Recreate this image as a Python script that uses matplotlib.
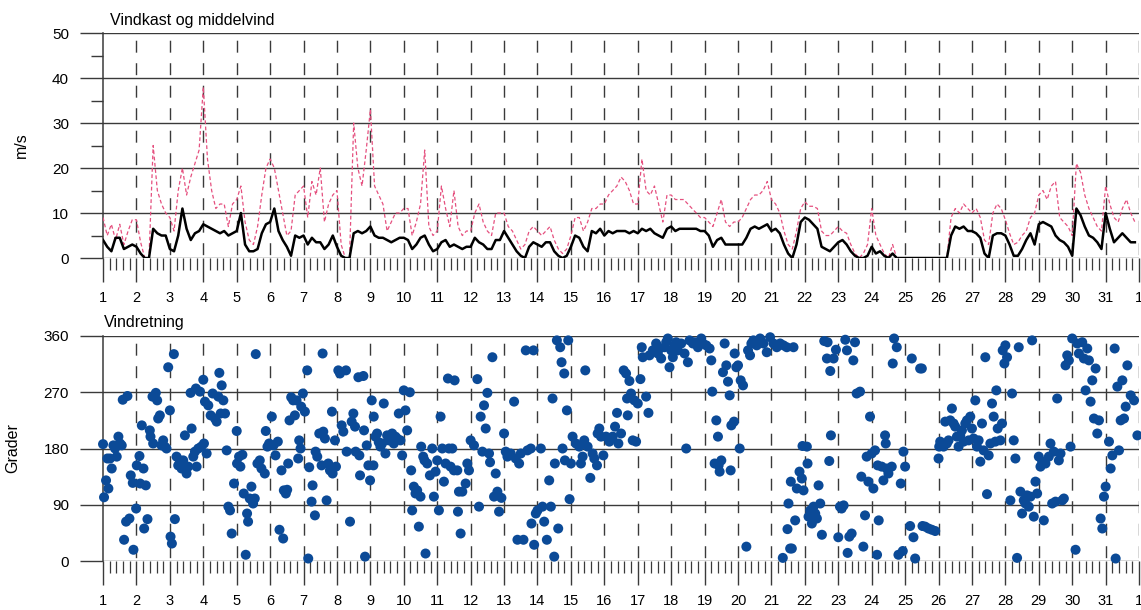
import numpy as np
import matplotlib
matplotlib.use("Agg")
import matplotlib.pyplot as plt
from matplotlib.ticker import MultipleLocator, FixedLocator

plt.rcParams['font.family'] = ['Liberation Sans', 'DejaVu Sans']

# Middelvind (m/s), 3-timers verdier, 8 per dag
mean_wind = [
    4, 2.5, 1.5, 4.5, 4.5, 2, 2.5, 3,          # 1
    2.5, 1, 0, 0, 6.5, 5.5, 5, 5,              # 2
    2, 1.5, 5, 11, 6.5, 4, 5.5, 6,             # 3
    7.5, 7, 6.5, 6, 5.5, 6, 5, 5.5,            # 4
    6, 10, 3, 1.5, 1.5, 2, 5.5, 7.5,           # 5
    8, 11, 6, 4, 2.5, 0.5, 5, 4.5,             # 6
    5, 3, 4.5, 3.5, 3.5, 2, 3, 5,              # 7
    2.5, 0.5, 0, 0, 5.5, 6, 5.5, 6,            # 8
    7, 5, 4.5, 4.5, 4, 3.5, 4, 4.5,            # 9
    4.5, 4, 2, 3, 4.5, 5, 3, 1.5,              # 10
    2, 3.5, 4, 2.5, 3, 2.5, 2, 2.5,            # 11
    2.5, 4.5, 3.5, 3, 2, 2, 4, 4,              # 12
    6, 4.5, 3, 1.5, 0.5, 0, 2.5, 3.5,          # 13
    3, 2.5, 3.5, 3.5, 1.5, 0.5, 0, 0.5,        # 14
    2.5, 5, 4.5, 2.5, 1.5, 6, 5.5, 6.5,        # 15
    5, 6, 5.5, 6, 6, 6, 5.5, 6,                # 16
    5.5, 6.5, 6, 6.5, 5.5, 5, 4.5, 6.5,        # 17
    7, 6, 6.5, 6.5, 6.5, 6.5, 6.5, 6,          # 18
    6, 5, 2.5, 4, 4.5, 3, 3, 3,                # 19
    3, 3, 4.5, 6.5, 7, 6.5, 7, 7.5,            # 20
    6, 6.5, 5.5, 3, 1, 0, 3, 8,                # 21
    9, 8.5, 7.5, 6.5, 2.5, 2, 1.5, 2.5,        # 22
    3.5, 4, 3, 1.5, 0.5, 0, 0, 0.5,            # 23
    2.5, 1, 1.5, 0.5, 0, 1, 0, 0,              # 24
    0, 0, 0, 0, 0, 0, 0, 0,                    # 25
    0, 0, 0, 5, 7, 6.5, 7, 6,                  # 26
    6, 5.5, 4.5, 1, 0, 5, 5.5, 5.5,            # 27
    5, 3, 0.5, 0.5, 2, 4, 5.5, 3,              # 28
    7.5, 8, 7.5, 7, 5, 4, 3.5, 2.5,            # 29
    0.5, 11, 9.5, 7, 5, 4.5, 3.5, 2,           # 30
    10, 6.5, 3.5, 4.5, 5.5, 4.5, 3.5, 3.5,     # 31
]

# Vindkast (m/s)
gust = [
    9, 5, 7.5, 4, 7.5, 3, 6, 8.5,
    8.5, 3.5, 0, 0, 25, 15, 12, 10,
    9, 6, 15, 20, 14, 18, 21, 24,
    38, 22, 15, 11, 12, 12, 7, 12,
    13, 16, 8, 4, 3, 7, 14, 20,
    22, 20, 15, 10, 5, 6, 14, 15,
    16, 9, 17, 14, 20, 8, 12, 14,
    15, 3, 0, 0, 30, 20, 16, 24,
    33, 16, 14, 12, 6, 8, 10, 10,
    11, 11, 5, 8, 12, 24, 7, 5,
    6, 16, 11, 7, 15, 7, 5, 6,
    6, 10, 12, 8, 6, 5, 10, 10,
    10, 7, 6, 4, 2, 3, 6, 7,
    6, 5, 6, 7, 4, 2, 1, 2,
    5, 9, 9, 6, 8, 11, 11, 12,
    12, 14, 15, 16, 18, 17, 15, 12,
    12, 22, 15, 14, 16, 12, 8, 14,
    14, 13, 13, 13, 12, 11, 10, 9,
    9, 8, 7, 10, 13, 8, 7, 8,
    8, 9, 11, 13, 14, 14, 15, 17,
    13, 12, 10, 6, 3, 2, 6, 11,
    12.5, 11.5, 11.5, 11, 6, 5, 5, 6,
    7, 6, 5.5, 3, 1, 0, 1, 3,
    11, 5, 3, 1, 0, 3, 0, 0,
    0, 0, 0, 0, 0, 0, 0, 0,
    0, 0, 0, 9, 11, 10, 12, 11,
    10, 11, 9, 4, 3, 10, 12, 11,
    8.5, 5.5, 3, 3.5, 5, 6, 9, 10,
    14, 15, 13, 16, 17, 9, 8, 7,
    5, 21, 19, 14, 11, 9, 7, 6,
    16, 12, 9, 8, 11, 13, 10, 8,
]

# Vindretning: tidspunkt (dag) og retning (grader)
dir_day = [
    1.00, 1.03, 1.09, 1.13, 1.16, 1.21, 1.26, 1.31, 1.36, 1.41, 1.46, 1.51, 1.56, 1.59, 1.63, 1.69, 1.73, 1.79, 1.83, 1.89, 1.91, 1.99,
    2.01, 2.09, 2.11, 2.16, 2.21, 2.23, 2.28, 2.33, 2.40, 2.42, 2.48, 2.50, 2.58, 2.62, 2.65, 2.70, 2.75, 2.80, 2.85, 2.90, 2.95,
    3.00, 3.02, 3.06, 3.12, 3.15, 3.20, 3.25, 3.30, 3.35, 3.40, 3.45, 3.50, 3.55, 3.62, 3.65, 3.70, 3.75, 3.78, 3.80, 3.85, 3.90, 3.94,
    4.00, 4.02, 4.05, 4.10, 4.15, 4.22, 4.28, 4.35, 4.40, 4.45, 4.48, 4.52, 4.55, 4.60, 4.65, 4.70, 4.75, 4.80, 4.85, 4.92,
    5.00, 5.01, 5.07, 5.11, 5.17, 5.21, 5.27, 5.31, 5.34, 5.39, 5.44, 5.49, 5.54, 5.57, 5.62, 5.69, 5.74, 5.84, 5.87, 5.92, 5.97,
    6.05, 6.10, 6.16, 6.23, 6.28, 6.34, 6.39, 6.41, 6.47, 6.51, 6.54, 6.58, 6.63, 6.69, 6.74, 6.79, 6.84, 6.87, 6.91, 6.93, 6.98,
    7.04, 7.11, 7.14, 7.17, 7.24, 7.27, 7.34, 7.36, 7.41, 7.47, 7.54, 7.57, 7.59, 7.64, 7.69, 7.74, 7.79, 7.85, 7.87, 7.94, 7.97,
    8.04, 8.09, 8.14, 8.19, 8.27, 8.29, 8.39, 8.44, 8.49, 8.54, 8.56, 8.64, 8.67, 8.69, 8.79, 8.81, 8.84, 8.89, 8.94, 8.99,
    9.04, 9.09, 9.10, 9.15, 9.20, 9.25, 9.30, 9.35, 9.40, 9.45, 9.50, 9.55, 9.60, 9.65, 9.70, 9.75, 9.80, 9.85, 9.90, 9.95,
    10.00, 10.05, 10.10, 10.18, 10.22, 10.25, 10.30, 10.35, 10.40, 10.45, 10.50, 10.52, 10.58, 10.62, 10.65, 10.70, 10.78, 10.85, 10.90, 10.95,
    11.00, 11.05, 11.10, 11.15, 11.20, 11.25, 11.32, 11.35, 11.40, 11.45, 11.50, 11.52, 11.60, 11.62, 11.65, 11.70, 11.75, 11.85, 11.90, 11.95,
    12.00, 12.10, 12.20, 12.25, 12.30, 12.35, 12.40, 12.45, 12.50, 12.55, 12.58, 12.65, 12.70, 12.75, 12.80, 12.85, 12.92,
    13.00, 13.05, 13.10, 13.20, 13.30, 13.35, 13.40, 13.45, 13.50, 13.58, 13.65, 13.70, 13.80, 13.82, 13.88, 13.90, 13.95,
    14.00, 14.10, 14.15, 14.20, 14.28, 14.35, 14.40, 14.45, 14.50, 14.52, 14.58, 14.62, 14.68, 14.72, 14.75, 14.80, 14.82, 14.88, 14.92, 14.96,
    15.00, 15.05, 15.15, 15.25, 15.30, 15.35, 15.40, 15.43, 15.50, 15.58, 15.65, 15.70, 15.78, 15.80, 15.85, 15.90, 15.97,
    16.05, 16.15, 16.25, 16.32, 16.38, 16.42, 16.50, 16.58, 16.65, 16.68, 16.70, 16.75, 16.80, 16.85, 16.90, 16.95,
    17.00, 17.08, 17.12, 17.15, 17.25, 17.32, 17.35, 17.45, 17.55, 17.60, 17.65, 17.70, 17.80, 17.85, 17.90, 17.95,
    18.00, 18.05, 18.10, 18.15, 18.20, 18.30, 18.40, 18.45, 18.50, 18.55, 18.65, 18.70, 18.80, 18.90, 18.95,
    19.05, 19.15, 19.20, 19.23, 19.30, 19.35, 19.40, 19.42, 19.45, 19.50, 19.55, 19.60, 19.65, 19.70, 19.75, 19.78, 19.80, 19.88, 19.90, 19.95,
    20.00, 20.05, 20.08, 20.15, 20.25, 20.30, 20.36, 20.40, 20.46, 20.56, 20.66, 20.76, 20.86, 20.96,
    21.06, 21.16, 21.26, 21.34, 21.36, 21.46, 21.48, 21.51, 21.56, 21.58, 21.61, 21.66, 21.71, 21.76, 21.84, 21.91, 21.93, 21.96,
    22.06, 22.08, 22.11, 22.16, 22.21, 22.26, 22.31, 22.36, 22.41, 22.46, 22.51, 22.58, 22.66, 22.68, 22.73, 22.76, 22.78, 22.86, 22.93,
    23.00, 23.05, 23.10, 23.16, 23.21, 23.26, 23.28, 23.33, 23.40, 23.45, 23.50, 23.55, 23.65, 23.69, 23.75, 23.80, 23.85, 23.90, 23.95,
    24.00, 24.05, 24.10, 24.16, 24.18, 24.21, 24.30, 24.35, 24.40, 24.42, 24.45, 24.50, 24.60, 24.63, 24.67, 24.75, 24.80, 24.87, 24.93, 24.95,
    25.00, 25.15, 25.20, 25.25, 25.30, 25.45, 25.50, 25.52, 25.60, 25.70, 25.80, 25.90,
    26.00, 26.02, 26.05, 26.15, 26.20, 26.25, 26.30, 26.35, 26.40, 26.45, 26.50, 26.55, 26.60, 26.65, 26.70, 26.75, 26.80, 26.85, 26.90, 26.95,
    27.00, 27.05, 27.10, 27.15, 27.20, 27.25, 27.30, 27.35, 27.40, 27.45, 27.50, 27.55, 27.60, 27.65, 27.70, 27.73, 27.77, 27.85, 27.90, 27.92, 27.97,
    28.00, 28.05, 28.15, 28.20, 28.25, 28.30, 28.35, 28.40, 28.45, 28.50, 28.55, 28.60, 28.65, 28.70, 28.75, 28.80, 28.85, 28.90, 28.95,
    29.00, 29.05, 29.10, 29.15, 29.20, 29.30, 29.35, 29.40, 29.45, 29.50, 29.55, 29.60, 29.65, 29.70, 29.75, 29.80, 29.85, 29.90, 29.95,
    30.00, 30.10, 30.15, 30.20, 30.30, 30.35, 30.40, 30.45, 30.50, 30.55, 30.60, 30.65, 30.70, 30.75, 30.80, 30.85, 30.90, 30.95,
    31.00, 31.10, 31.15, 31.20, 31.27, 31.30, 31.35, 31.40, 31.45, 31.50, 31.55, 31.60, 31.65, 31.75, 31.85, 31.95,
]
dir_deg = [
    187, 102, 129, 164, 116, 164, 148, 185, 180, 167, 199, 188, 185, 258, 34, 63, 264, 68, 137, 125, 18, 84,
    153, 168, 124, 217, 148, 52, 121, 67, 209, 199, 263, 188, 269, 257, 228, 233, 185, 193, 183, 180, 310,
    241, 39, 28, 331, 67, 167, 153, 161, 148, 161, 201, 140, 151, 269, 212, 167, 175, 276, 151, 180, 271, 183,
    290, 188, 255, 172, 249, 233, 268, 228, 223, 263, 301, 236, 281, 257, 236, 177, 87, 81, 44, 124,
    208, 156, 167, 151, 170, 108, 10, 76, 63, 100, 119, 92, 100, 331, 156, 161, 148, 140, 208, 183, 188,
    231, 185, 169, 191, 50, 145, 36, 113, 108, 114, 156, 225, 262, 257, 233, 257, 164, 193, 180, 247, 268,
    239, 305, 4, 150, 95, 121, 73, 175, 167, 204, 153, 332, 207, 196, 97, 156, 145, 239, 140, 193, 151,
    305, 300, 217, 207, 305, 175, 63, 223, 236, 215, 175, 294, 169, 137, 296, 209, 7, 185, 153, 129,
    257, 153, 231, 199, 204, 190, 183, 188, 252, 172, 201, 193, 199, 204, 188, 199, 196, 236, 193, 169,
    273, 241, 209, 270, 145, 81, 119, 108, 113, 55, 103, 183, 167, 161, 12, 156, 137, 180, 103, 143,
    161, 81, 231, 180, 127, 156, 292, 180, 151, 180, 145, 289, 145, 79, 111, 44, 111, 124, 156, 145,
    193, 185, 291, 87, 231, 175, 249, 212, 269, 172, 158, 326, 103, 140, 111, 79, 101,
    204, 175, 167, 172, 255, 164, 34, 156, 172, 34, 337, 177, 180, 60, 337, 26, 76,
    81, 180, 87, 63, 34, 129, 87, 260, 7, 156, 353, 52, 342, 318, 180, 300, 161, 241, 353, 99,
    156, 199, 188, 183, 156, 167, 193, 305, 183, 133, 172, 164, 153, 204, 212, 199, 169,
    199, 191, 199, 215, 237, 188, 204, 305, 300, 260, 233, 288, 268, 193, 257, 191,
    252, 291, 342, 326, 263, 237, 329, 337, 348, 332, 340, 324, 342, 350, 356, 310,
    337, 326, 345, 350, 337, 348, 332, 180, 318, 353, 348, 350, 342, 356, 348,
    345, 340, 321, 271, 156, 225, 199, 153, 143, 161, 302, 348, 313, 287, 265, 145, 217, 223, 332, 310,
    313, 180, 289, 281, 23, 337, 329, 348, 353, 345, 356, 348, 334, 358,
    348, 342, 348, 5, 345, 342, 51, 92, 20, 127, 20, 342, 65, 116, 143, 132, 184, 113,
    183, 156, 71, 81, 60, 87, 76, 68, 121, 92, 42, 352, 324, 350, 160, 304, 201, 324, 338,
    38, 87, 84, 89, 354, 337, 13, 39, 44, 321, 350, 268, 271, 135, 23, 73, 167, 127, 231,
    172, 116, 177, 10, 153, 65, 151, 129, 201, 188, 148, 140, 151, 316, 356, 342, 10, 124, 16, 175,
    151, 56, 324, 38, 4, 308, 308, 56, 55, 52, 50, 48,
    164, 183, 191, 183, 223, 188, 193, 225, 244, 220, 215, 199, 183, 201, 209, 191, 220, 225, 193, 231,
    212, 196, 257, 183, 193, 159, 220, 177, 326, 107, 169, 188, 252, 231, 191, 273, 212, 193, 220, 337, 316,
    345, 326, 97, 268, 193, 164, 5, 342, 111, 76, 97, 92, 105, 87, 103, 353, 71, 127, 108,
    167, 151, 159, 65, 156, 167, 188, 92, 175, 95, 260, 161, 172, 97, 100, 313, 329, 321, 183,
    356, 18, 348, 332, 350, 324, 273, 340, 321, 255, 289, 228, 308, 204, 225, 68, 52, 103,
    119, 191, 148, 169, 340, 4, 279, 177, 225, 289, 228, 247, 313, 265, 257, 201,
]

day_labels = [str(d) for d in range(1, 32)] + ["1"]

obs_hour = np.arange(0, 3 * len(mean_wind), 3)
wind_day = 1 + obs_hour / 24.0

grid_col = "#3a3a3a"

fig = plt.figure(figsize=(11.41, 6.10), dpi=100)
ax1 = fig.add_axes([0.0903, 0.5770, 0.9080, 0.3689])
ax2 = fig.add_axes([0.0903, 0.0803, 0.9080, 0.3689])


def style_axis(ax, ymax, ystep, yminor=None):
    ax.set_xlim(1, 32)
    ax.set_ylim(0, ymax)
    for s in ["top", "right", "bottom"]:
        ax.spines[s].set_visible(False)
    ax.spines["left"].set_color(grid_col)
    ax.spines["left"].set_linewidth(1.1)
    ax.xaxis.set_major_locator(FixedLocator(range(1, 33)))
    ax.set_xticklabels(day_labels)
    ax.xaxis.set_minor_locator(MultipleLocator(0.2))
    ax.yaxis.set_major_locator(MultipleLocator(ystep))
    if yminor:
        ax.yaxis.set_minor_locator(MultipleLocator(yminor))
    ax.tick_params(axis="x", which="major", length=17, width=1.0, color=grid_col,
                   pad=7, labelsize=10.5)
    ax.tick_params(axis="x", which="minor", length=8.5, width=0.9, color=grid_col)
    ax.tick_params(axis="y", which="major", length=16.5, width=1.0, color=grid_col,
                   pad=8, labelsize=11)
    ax.tick_params(axis="y", which="minor", length=8.5, width=1.0, color=grid_col)
    ax.yaxis.grid(True, which="major", color=grid_col, linewidth=1.0)
    ax.set_axisbelow(True)
    # stiplede dagslinjer
    ax.vlines(range(2, 33), ymax, 0, colors=grid_col, linewidth=1.0,
              linestyles=[(11, (8.6, 7.6))], zorder=1)


style_axis(ax1, 50, 10, 5)
style_axis(ax2, 360, 90)

ax1.plot(wind_day, gust, color="#e5507f", linewidth=0.9, linestyle=(0, (3, 2)), zorder=3)
ax1.plot(wind_day, mean_wind, color="black", linewidth=1.8, zorder=4)
ax1.set_ylabel("m/s", fontsize=11.5)
ax1.yaxis.set_label_coords(-0.072, 0.5)

ax2.scatter(dir_day, dir_deg, s=52, color="#0b4a97", edgecolors="none", zorder=3,
            clip_on=False)
ax2.set_ylabel("Grader", fontsize=11.5)
ax2.yaxis.set_label_coords(-0.080, 0.5)

fig.text(110 / 1141, 1 - 25 / 610, "Vindkast og middelvind", fontsize=11.5, va="baseline")
fig.text(104 / 1141, 1 - 327 / 610, "Vindretning", fontsize=11.5, va="baseline")

fig.savefig("out.png", dpi=100)
